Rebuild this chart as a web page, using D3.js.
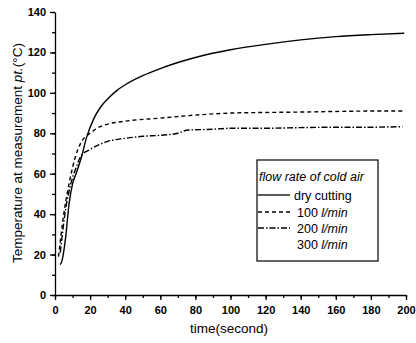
<!DOCTYPE html>
<html>
<head>
<meta charset="utf-8">
<script src="https://cdn.jsdelivr.net/npm/d3@7"></script>
<style>
    body { margin: 0; background: #fff; }
    svg { display: block; }
    .axis path, .axis line { stroke: #000; stroke-width: 1.3; }
    .axis text { font-family: "Liberation Sans", Arial, sans-serif; font-weight: bold; font-size: 11px; fill: #000; }
    .label { font-family: "Liberation Sans", Arial, sans-serif; font-size: 13.5px; fill: #000; }
    .legend-text { font-family: "Liberation Sans", Arial, sans-serif; font-size: 12.5px; fill: #000; }
</style>
</head>
<body>
<svg id="chart" width="416" height="343"></svg>
<script>
// values
var dryTime = [3, 4, 6, 8, 10, 12, 15, 18, 22, 26, 30, 35, 40, 50, 60, 70, 80, 100, 120, 140, 160, 180, 199];
var dryTemp = [15, 17, 28, 45, 55, 60, 68, 78, 87, 93, 97, 101, 104, 108.5, 112, 115, 117.5, 121.3, 124, 126.2, 127.8, 128.8, 129.5];

var air100Time = [2, 5, 8, 10, 13, 16, 20, 25, 30, 40, 60, 80, 100, 120, 140, 160, 180, 198];
var air100Temp = [19, 40, 55, 63, 72, 77, 80, 83, 84.5, 86, 87.5, 89, 90, 90.3, 90.5, 90.8, 91, 91];

var air200Time = [3, 6, 9, 12, 15, 20, 30, 40, 50, 60, 70, 75, 90, 100, 120, 140, 160, 180, 198];
var air200Temp = [21, 42, 55, 63, 69, 72, 76, 77.5, 78.5, 79, 80, 81.5, 82, 82.5, 82.5, 82.8, 83, 83, 83.3];

var legendTitle = 'flow rate of cold air';
var legendNames = ['dry cutting', '100 ', '200 ', '300 '];
var legendUnits = ['', 'l/min', 'l/min', 'l/min'];
var legendDash = [null, '4,3', '6,2,1.5,2', 'none'];

var xTicks = d3.range(0, 201, 20);
var yTicks = d3.range(0, 141, 20);

var svg = d3.select('#chart');

var x = d3.scaleLinear().domain([0, 200]).range([55, 406]);
var y = d3.scaleLinear().domain([0, 140]).range([295, 12]);

// minor ticks first, major ticks on top
svg.append('g')
    .attr('class', 'axis')
    .attr('transform', 'translate(0,295)')
    .call(d3.axisBottom(x).tickValues(d3.range(0, 201, 10)).tickSize(3).tickFormat(''))
    .select('.domain').remove();
svg.append('g')
    .attr('class', 'axis')
    .attr('transform', 'translate(55,0)')
    .call(d3.axisLeft(y).tickValues(d3.range(0, 141, 10)).tickSize(3).tickFormat(''))
    .select('.domain').remove();

svg.append('g')
    .attr('class', 'axis')
    .attr('transform', 'translate(0,295)')
    .call(d3.axisBottom(x).tickValues(xTicks).tickSize(5).tickSizeOuter(0).tickPadding(6));
svg.append('g')
    .attr('class', 'axis')
    .attr('transform', 'translate(55,0)')
    .call(d3.axisLeft(y).tickValues(yTicks).tickSize(5).tickSizeOuter(0).tickPadding(4));

var line = d3.line()
    .x(function(d) { return x(d[0]); })
    .y(function(d) { return y(d[1]); })
    .curve(d3.curveMonotoneX);

var series = [
    { t: dryTime, v: dryTemp, dash: legendDash[0] },
    { t: air100Time, v: air100Temp, dash: legendDash[1] },
    { t: air200Time, v: air200Temp, dash: legendDash[2] }
];

series.forEach(function(s) {
    svg.append('path')
        .datum(d3.zip(s.t, s.v))
        .attr('d', line)
        .attr('fill', 'none')
        .attr('stroke', '#000')
        .attr('stroke-width', 1.4)
        .attr('stroke-dasharray', s.dash);
});

// axis titles
svg.append('text')
    .attr('class', 'label')
    .attr('text-anchor', 'middle')
    .attr('x', 229)
    .attr('y', 333)
    .text('time(second)');

var yTitle = svg.append('text')
    .attr('class', 'label')
    .attr('text-anchor', 'middle')
    .attr('transform', 'translate(22,153) rotate(-90)');
yTitle.append('tspan').text('Temperature at measurement ');
yTitle.append('tspan').attr('font-style', 'italic').text('pt.');
yTitle.append('tspan').text('(°C)');

// legend
var legend = svg.append('g');
legend.append('rect')
    .attr('x', 257).attr('y', 160)
    .attr('width', 121).attr('height', 101)
    .attr('fill', '#fff')
    .attr('stroke', '#000')
    .attr('stroke-width', 1.2);
legend.append('text')
    .attr('class', 'legend-text')
    .attr('font-style', 'italic')
    .attr('x', 259).attr('y', 181)
    .text(legendTitle);

var rowY = [195, 212, 228, 244];
legendNames.forEach(function(name, i) {
    if (legendDash[i] !== 'none') {
        legend.append('line')
            .attr('x1', 258).attr('x2', 290)
            .attr('y1', rowY[i]).attr('y2', rowY[i])
            .attr('stroke', '#000')
            .attr('stroke-width', 1.3)
            .attr('stroke-dasharray', legendDash[i]);
    }
    var t = legend.append('text')
        .attr('class', 'legend-text')
        .attr('x', i === 0 ? 294 : 297)
        .attr('y', rowY[i] + 4.5);
    t.append('tspan').text(name);
    t.append('tspan').attr('font-style', 'italic').text(legendUnits[i]);
});
</script>
</body>
</html>
